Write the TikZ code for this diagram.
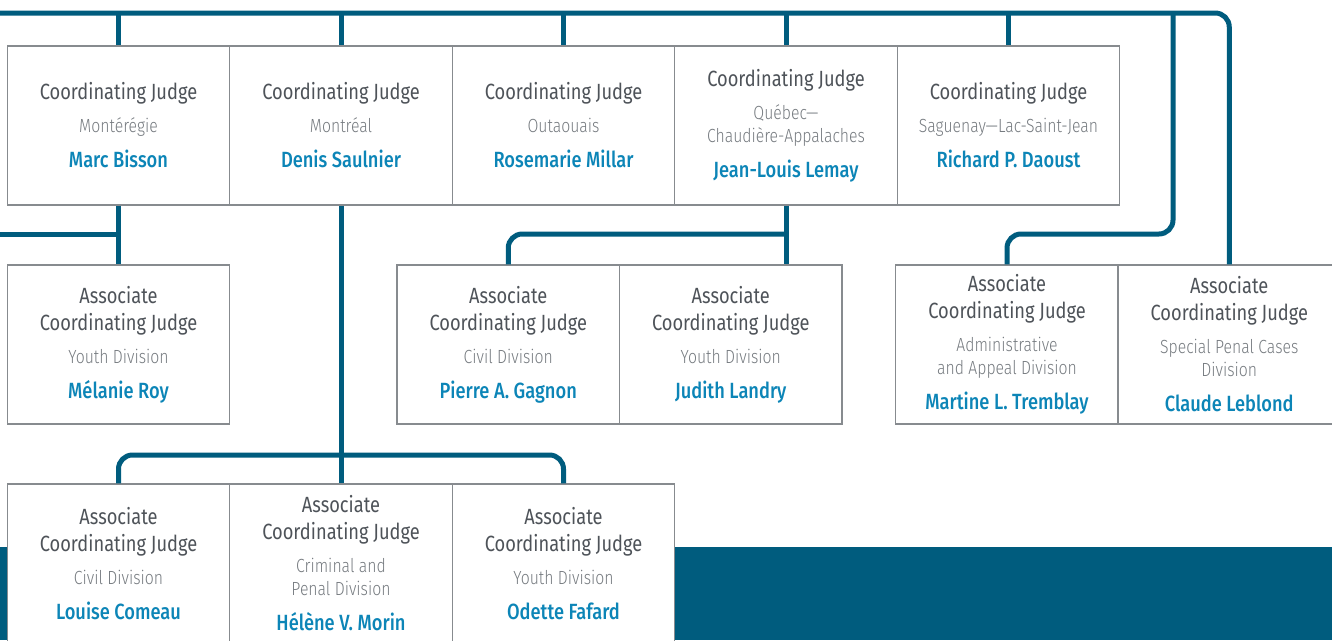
\documentclass[tikz,border=0pt]{standalone}
\usepackage{fontspec}
\setmainfont[FakeStretch=0.83]{Fira Sans}
\newfontfamily\lightfont[FakeStretch=0.83]{Fira Sans Light}
\newfontfamily\mediumfont[FakeStretch=0.83]{Fira Sans Medium}
\usepackage{xcolor}
\definecolor{C0}{RGB}{0,92,126}
\definecolor{C1}{RGB}{12,133,183}
\definecolor{C2}{RGB}{78,83,89}
\definecolor{C3}{RGB}{118,123,128}
\definecolor{C4}{RGB}{135,139,143}

\newcommand{\jtitle}{\fontsize{22}{23}\selectfont\color{C2}}
\newcommand{\jarea}{\lightfont\fontsize{19}{23}\selectfont\color{C3}}
\newcommand{\jname}{\mediumfont\fontsize{22}{23}\selectfont\color{C1}}
\newcommand{\cj}{\jtitle Coordinating Judge}
\newcommand{\acj}{\jtitle Associate\\[4pt]\jtitle Coordinating Judge}
\newcommand{\judge}[3]{#1\\[10pt]#2\\[12pt]\jname #3}

\tikzset{
  judgebox/.style={draw=C4, line width=1.3pt, fill=white, inner sep=0pt,
    minimum width=222.5pt, minimum height=159pt, align=center,
    font=\fontsize{20}{23}\selectfont},
  link/.style={draw=C0, line width=5pt},
}

\begin{document}
\begin{tikzpicture}[x=1pt,y=-1pt]
  \useasboundingbox (0,0) rectangle (1332,640);

  % Band at the foot.
  \fill[C0] (0,547) rectangle (1332,640);

  % Coordinating judges.
  \node[judgebox] (marc)  at (118.5,125.5) {\judge{\cj}{\jarea Montérégie}{Marc Bisson}};
  \node[judgebox] (denis) at (341,125.5)   {\judge{\cj}{\jarea Montréal}{Denis Saulnier}};
  \node[judgebox] (outa)  at (563.5,125.5) {\judge{\cj}{\jarea Outaouais}{Rosemarie Millar}};
  \node[judgebox] (jl)    at (786,125.5)   {\judge{\cj}{\jarea Québec—\\\jarea Chaudière-Appalaches}{Jean-Louis Lemay}};
  \node[judgebox] (sag)   at (1008.5,125.5){\judge{\cj}{\jarea Saguenay—Lac-Saint-Jean}{Richard P. Daoust}};

  % Associate coordinating judges.
  \node[judgebox] (melanie) at (118.5,344.5)  {\judge{\acj}{\jarea Youth Division}{Mélanie Roy}};
  \node[judgebox] (pierre)  at (508.25,344.5) {\judge{\acj}{\jarea Civil Division}{Pierre A. Gagnon}};
  \node[judgebox] (judith)  at (730.75,344.5) {\judge{\acj}{\jarea Youth Division}{Judith Landry}};
  \node[judgebox] (martine) at (1007,344.5)   {\judge{\acj}{\jarea Administrative\\\jarea and Appeal Division}{Martine L. Tremblay}};
  \node[judgebox] (claude)  at (1229.25,344.5){\judge{\acj}{\jarea Special Penal Cases\\\jarea Division}{Claude Leblond}};

  \node[judgebox] (louise) at (118.5,563.5) {\judge{\acj}{\jarea Civil Division}{Louise Comeau}};
  \node[judgebox] (helene) at (341,563.5)   {\judge{\acj}{\jarea Criminal and\\\jarea Penal Division}{Hélène V. Morin}};
  \node[judgebox] (odette) at (563.5,563.5) {\judge{\acj}{\jarea Youth Division}{Odette Fafard}};

  % Levels of the bars.
  \coordinate (bar) at (0,13);
  \coordinate (tr) at (1173,13);
  \coordinate (lvlA) at (0,234);
  \coordinate (lvlB) at (0,455);

  % Top bar and its drops.
  \draw[link, rounded corners=14pt] (bar) -| (claude.north);
  \foreach \j in {marc,denis,outa,jl,sag}
    \draw[link] (\j.north |- bar) -- (\j.north);
  \draw[link, rounded corners=14pt] (tr) |- (martine.north |- lvlA) -- (martine.north);

  % Branches under the coordinating judges.
  \draw[link] (marc.south) -- (melanie.north);
  \draw[link] (lvlA) -- (marc.south |- lvlA);
  \draw[link] (jl.south) -- (judith.north -| jl.south);
  \draw[link, rounded corners=14pt] (jl.south |- lvlA) -| (pierre.north);
  \draw[link] (denis.south) -- (helene.north);
  \draw[link, rounded corners=14pt] (louise.north) |- (odette.north |- lvlB) -- (odette.north);

\end{tikzpicture}
\end{document}
